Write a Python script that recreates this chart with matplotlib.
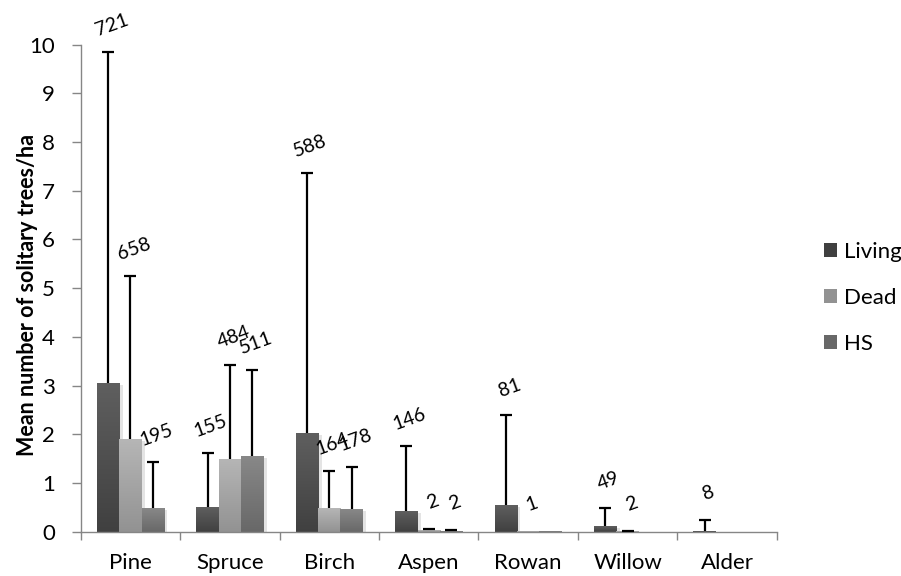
import numpy as np
import matplotlib
matplotlib.use("Agg")
import matplotlib.pyplot as plt
import matplotlib.patheffects as pe
from matplotlib.colors import LinearSegmentedColormap
from matplotlib.patches import Patch

plt.rcParams["font.family"] = ["Lato", "DejaVu Sans"]

# Mean number of solitary trees per hectare, with upper error (SD) and sample size n
species = ["Pine", "Spruce", "Birch", "Aspen", "Rowan", "Willow", "Alder"]

living = [3.05, 0.51, 2.02, 0.43, 0.54, 0.12, 0.01]
living_sd = [6.79, 1.10, 5.34, 1.33, 1.85, 0.37, 0.23]
living_n = [721, 155, 588, 146, 81, 49, 8]

dead = [1.90, 1.50, 0.48, 0.03, 0.01, 0.01, 0.0]
dead_sd = [3.34, 1.93, 0.77, 0.02, 0.0, 0.01, 0.0]
dead_n = [658, 484, 164, 2, 1, 2, None]

hs = [0.48, 1.55, 0.46, 0.02, 0.01, 0.0, 0.0]
hs_sd = [0.95, 1.76, 0.86, 0.01, 0.0, 0.0, 0.0]
hs_n = [195, 511, 178, 2, None, None, None]

series_names = ["Living", "Dead", "HS"]
y_ticks = list(range(0, 11))

series = [
    (living, living_sd, living_n, ("#404040", "#5f5f5f")),
    (dead, dead_sd, dead_n, ("#929292", "#b6b6b6")),
    (hs, hs_sd, hs_n, ("#686868", "#888888")),
]

fig = plt.figure(figsize=(9.01, 5.76), dpi=100)
ax = fig.add_axes([0.0896, 0.0769, 0.7725, 0.8458])

x = np.arange(len(species))
width = 0.225
offsets = [-width, 0.0, width]
grad = np.linspace(0, 1, 256).reshape(-1, 1)

for (vals, sds, ns, (c_bot, c_top)), off, name in zip(series, offsets, series_names):
    xs = x + off
    vals_a = np.array(vals)
    sds_a = np.array(sds)
    bars = ax.bar(xs, vals_a, width=width, color=c_bot, linewidth=0, zorder=2,
                  label=name)
    cmap = LinearSegmentedColormap.from_list(name, [c_bot, c_top])
    for rect in bars:
        rect.set_path_effects([
            pe.SimplePatchShadow(offset=(2.5, -1.5), shadow_rgbFace="#c4c4c4", alpha=0.45),
            pe.Normal(),
        ])
        h = rect.get_height()
        if h <= 0:
            continue
        x0 = rect.get_x()
        im = ax.imshow(grad, extent=[x0, x0 + rect.get_width(), 0, h], origin="lower",
                       aspect="auto", cmap=cmap, zorder=2.1, interpolation="bilinear")
        im.set_clip_path(rect)

    # upper error bars only: stem from the bar top plus a cap
    m = sds_a > 0
    ax.vlines(xs[m], vals_a[m], vals_a[m] + sds_a[m], colors="black",
              linewidth=1.6, zorder=4)
    ax.plot(xs[m], vals_a[m] + sds_a[m], linestyle="none", marker="_",
            markersize=9, markeredgewidth=1.6, color="black", zorder=4)

    # sample sizes above the error bars
    for xi, v, s, n in zip(xs, vals, sds, ns):
        if n is None:
            continue
        ax.annotate(str(n), xy=(xi, v + s), xytext=(2.5, 19.5),
                    textcoords="offset points", rotation=20,
                    rotation_mode="anchor", ha="center", va="center",
                    fontsize=14, color="black", zorder=5)

ax.set_xlim(-0.5, len(species) - 0.5)
ax.set_ylim(0, 10)

for side in ("top", "right"):
    ax.spines[side].set_visible(False)
for side in ("left", "bottom"):
    ax.spines[side].set_color("#868686")
    ax.spines[side].set_linewidth(1.0)

ax.set_yticks(y_ticks)
ax.set_yticklabels([str(t) for t in y_ticks])
ax.tick_params(axis="y", direction="out", length=6.5, width=1.0, color="#868686",
               pad=12, labelsize=16)

ax.set_xticks(x)
ax.set_xticklabels(species)
ax.set_xticks(np.arange(len(species) + 1) - 0.5, minor=True)
ax.tick_params(axis="x", which="major", length=0, pad=15, labelsize=16)
ax.tick_params(axis="x", which="minor", direction="out", length=5.5, width=1.0,
               color="#868686")

ax.set_ylabel("Mean number of solitary trees/ha", fontsize=15.5, fontweight="bold")
ax.yaxis.set_label_coords(-0.061, 0.486)

handles = [Patch(facecolor=s[3][0], edgecolor="none") for s in series]
fig.legend(handles, series_names, loc="center left",
           bbox_to_anchor=(0.9145, 0.4826), frameon=False, fontsize=16,
           handlelength=0.59, handleheight=0.59, handletextpad=0.32,
           labelspacing=1.16, borderpad=0, borderaxespad=0)

fig.savefig("out.png", dpi=100)
